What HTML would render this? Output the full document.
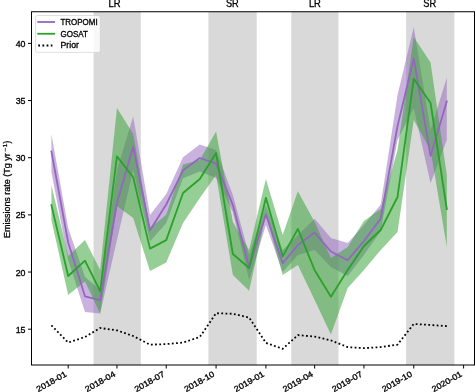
<!DOCTYPE html>
<html><head><meta charset="utf-8"><style>
html,body{margin:0;padding:0;background:#fff;}
body{width:475px;height:392px;overflow:hidden;}
svg{display:block;will-change:transform;}
.t{font-family:"Liberation Sans",sans-serif;font-size:8.2px;fill:#000;stroke:#000;stroke-width:0.3px;}
</style></head><body>
<svg width="475" height="392" viewBox="0 0 475 392">
<defs><clipPath id="ax"><rect x="31.5" y="11.75" width="443.0" height="353.25"/></clipPath></defs>
<rect x="0" y="0" width="475" height="392" fill="#fff"/>
<rect x="93.58" y="11.75" width="47.20" height="353.25" fill="#d9d9d9"/>
<rect x="208.40" y="11.75" width="48.29" height="353.25" fill="#d9d9d9"/>
<rect x="291.28" y="11.75" width="47.20" height="353.25" fill="#d9d9d9"/>
<rect x="406.10" y="11.75" width="48.29" height="353.25" fill="#d9d9d9"/>
<g clip-path="url(#ax)">
<polygon points="51.41,134.00 68.20,228.00 84.99,277.00 100.16,290.00 116.95,170.00 133.20,116.50 149.99,215.00 166.24,194.00 183.03,157.20 199.82,144.60 216.07,150.00 232.86,195.00 249.11,255.00 265.90,205.00 282.69,250.00 297.86,235.00 314.65,218.80 330.90,238.00 347.69,243.00 363.94,225.00 380.73,204.50 397.52,95.00 413.77,27.10 430.56,130.00 446.81,77.40 446.81,140.00 430.56,183.20 413.77,108.00 397.52,140.00 380.73,231.00 363.94,255.00 347.69,276.00 330.90,267.00 314.65,250.00 297.86,255.00 282.69,272.00 265.90,225.00 249.11,280.00 232.86,212.00 216.07,178.00 199.82,171.40 183.03,178.30 166.24,223.00 149.99,241.50 133.20,170.00 116.95,240.00 100.16,313.40 84.99,311.90 68.20,260.00 51.41,172.00" fill="#9467bd" fill-opacity="0.5"/>
<polygon points="51.41,185.30 68.20,256.00 84.99,239.90 100.16,270.00 116.95,108.00 133.20,134.00 149.99,228.00 166.24,214.70 183.03,164.50 199.82,160.00 216.07,131.50 232.86,222.00 249.11,250.00 265.90,179.00 282.69,235.00 297.86,191.20 314.65,222.00 330.90,258.00 347.69,247.00 363.94,221.00 380.73,209.00 397.52,150.00 413.77,37.10 430.56,62.50 446.81,175.00 446.81,247.10 430.56,150.00 413.77,120.00 397.52,232.00 380.73,250.00 363.94,270.00 347.69,288.00 330.90,334.50 314.65,300.00 297.86,265.00 282.69,275.00 265.90,215.00 249.11,290.80 232.86,275.00 216.07,175.00 199.82,198.00 183.03,223.00 166.24,262.60 149.99,271.00 133.20,218.00 116.95,206.00 100.16,313.40 84.99,281.60 68.20,295.00 51.41,220.00" fill="#2ca02c" fill-opacity="0.5"/>
<polyline points="51.41,151.50 68.20,242.50 84.99,296.30 100.16,300.10 116.95,203.00 133.20,146.60 149.99,230.30 166.24,204.50 183.03,170.30 199.82,158.00 216.07,163.70 232.86,205.00 249.11,267.00 265.90,214.50 282.69,263.30 297.86,245.00 314.65,232.50 330.90,251.50 347.69,260.20 363.94,241.00 380.73,218.50 397.52,126.00 413.77,58.60 430.56,155.90 446.81,101.25" fill="none" stroke="#9467bd" stroke-width="1.8" stroke-linejoin="round" stroke-linecap="square"/>
<polyline points="51.41,205.20 68.20,276.00 84.99,260.70 100.16,291.20 116.95,156.40 133.20,177.30 149.99,248.60 166.24,240.10 183.03,193.00 199.82,179.00 216.07,153.00 232.86,254.00 249.11,268.00 265.90,197.80 282.69,256.40 297.86,228.90 314.65,270.20 330.90,296.80 347.69,270.00 363.94,246.00 380.73,230.00 397.52,197.00 413.77,78.70 430.56,103.00 446.81,209.10" fill="none" stroke="#2ca02c" stroke-width="1.8" stroke-linejoin="round" stroke-linecap="square"/>
<polyline points="51.41,325.30 68.20,342.60 84.99,337.00 100.16,328.00 116.95,330.40 133.20,336.00 149.99,344.70 166.24,344.10 183.03,342.60 199.82,337.00 216.07,313.20 232.86,313.80 249.11,317.60 265.90,342.90 282.69,348.80 297.86,335.10 314.65,336.60 330.90,340.40 347.69,347.10 363.94,348.20 380.73,347.10 397.52,344.60 413.77,323.90 430.56,325.00 446.81,326.10" fill="none" stroke="#000" stroke-width="1.8" stroke-dasharray="1.8 2.4"/>
</g>
<rect x="31.5" y="11.75" width="443.0" height="353.25" fill="none" stroke="#000" stroke-width="1.0"/>
<line x1="28.0" y1="329.20" x2="31.5" y2="329.20" stroke="#000" stroke-width="1.0"/>
<text x="25.50" y="332.80" text-anchor="end" class="t" textLength="9.8" lengthAdjust="spacingAndGlyphs">15</text>
<line x1="28.0" y1="272.04" x2="31.5" y2="272.04" stroke="#000" stroke-width="1.0"/>
<text x="25.50" y="275.64" text-anchor="end" class="t" textLength="9.8" lengthAdjust="spacingAndGlyphs">20</text>
<line x1="28.0" y1="214.88" x2="31.5" y2="214.88" stroke="#000" stroke-width="1.0"/>
<text x="25.50" y="218.48" text-anchor="end" class="t" textLength="9.8" lengthAdjust="spacingAndGlyphs">25</text>
<line x1="28.0" y1="157.72" x2="31.5" y2="157.72" stroke="#000" stroke-width="1.0"/>
<text x="25.50" y="161.32" text-anchor="end" class="t" textLength="9.8" lengthAdjust="spacingAndGlyphs">30</text>
<line x1="28.0" y1="100.56" x2="31.5" y2="100.56" stroke="#000" stroke-width="1.0"/>
<text x="25.50" y="104.16" text-anchor="end" class="t" textLength="9.8" lengthAdjust="spacingAndGlyphs">35</text>
<line x1="28.0" y1="43.40" x2="31.5" y2="43.40" stroke="#000" stroke-width="1.0"/>
<text x="25.50" y="47.00" text-anchor="end" class="t" textLength="9.8" lengthAdjust="spacingAndGlyphs">40</text>

<line x1="68.20" y1="365.0" x2="68.20" y2="368.5" stroke="#000" stroke-width="1.0"/>
<text x="67.30" y="375.60" text-anchor="end" class="t" textLength="33.4" lengthAdjust="spacingAndGlyphs" transform="rotate(-30 67.30 375.60)">2018-01</text>
<line x1="116.95" y1="365.0" x2="116.95" y2="368.5" stroke="#000" stroke-width="1.0"/>
<text x="116.05" y="375.60" text-anchor="end" class="t" textLength="33.4" lengthAdjust="spacingAndGlyphs" transform="rotate(-30 116.05 375.60)">2018-04</text>
<line x1="166.24" y1="365.0" x2="166.24" y2="368.5" stroke="#000" stroke-width="1.0"/>
<text x="165.34" y="375.60" text-anchor="end" class="t" textLength="33.4" lengthAdjust="spacingAndGlyphs" transform="rotate(-30 165.34 375.60)">2018-07</text>
<line x1="216.07" y1="365.0" x2="216.07" y2="368.5" stroke="#000" stroke-width="1.0"/>
<text x="215.17" y="375.60" text-anchor="end" class="t" textLength="33.4" lengthAdjust="spacingAndGlyphs" transform="rotate(-30 215.17 375.60)">2018-10</text>
<line x1="265.90" y1="365.0" x2="265.90" y2="368.5" stroke="#000" stroke-width="1.0"/>
<text x="265.00" y="375.60" text-anchor="end" class="t" textLength="33.4" lengthAdjust="spacingAndGlyphs" transform="rotate(-30 265.00 375.60)">2019-01</text>
<line x1="314.65" y1="365.0" x2="314.65" y2="368.5" stroke="#000" stroke-width="1.0"/>
<text x="313.75" y="375.60" text-anchor="end" class="t" textLength="33.4" lengthAdjust="spacingAndGlyphs" transform="rotate(-30 313.75 375.60)">2019-04</text>
<line x1="363.94" y1="365.0" x2="363.94" y2="368.5" stroke="#000" stroke-width="1.0"/>
<text x="363.04" y="375.60" text-anchor="end" class="t" textLength="33.4" lengthAdjust="spacingAndGlyphs" transform="rotate(-30 363.04 375.60)">2019-07</text>
<line x1="413.77" y1="365.0" x2="413.77" y2="368.5" stroke="#000" stroke-width="1.0"/>
<text x="412.87" y="375.60" text-anchor="end" class="t" textLength="33.4" lengthAdjust="spacingAndGlyphs" transform="rotate(-30 412.87 375.60)">2019-10</text>
<line x1="463.60" y1="365.0" x2="463.60" y2="368.5" stroke="#000" stroke-width="1.0"/>
<text x="462.70" y="375.60" text-anchor="end" class="t" textLength="33.4" lengthAdjust="spacingAndGlyphs" transform="rotate(-30 462.70 375.60)">2020-01</text>

<text x="114.6" y="6.74" text-anchor="middle" class="t" style="font-size:10.2px" textLength="12.0" lengthAdjust="spacingAndGlyphs">LR</text>
<text x="232.3" y="6.74" text-anchor="middle" class="t" style="font-size:10.2px" textLength="12.8" lengthAdjust="spacingAndGlyphs">SR</text>
<text x="314.9" y="6.74" text-anchor="middle" class="t" style="font-size:10.2px" textLength="12.0" lengthAdjust="spacingAndGlyphs">LR</text>
<text x="429.7" y="6.74" text-anchor="middle" class="t" style="font-size:10.2px" textLength="12.8" lengthAdjust="spacingAndGlyphs">SR</text>
<g>
<rect x="35.6" y="15.5" width="64.7" height="36.9" rx="2" ry="2" fill="#fff" fill-opacity="0.8" stroke="#ccc" stroke-opacity="0.8" stroke-width="0.8"/>
<line x1="37.3" y1="22.0" x2="55.1" y2="22.0" stroke="#9467bd" stroke-width="1.8"/>
<line x1="37.3" y1="33.76" x2="55.1" y2="33.76" stroke="#2ca02c" stroke-width="1.8"/>
<line x1="38.2" y1="45.5" x2="52.4" y2="45.5" stroke="#000" stroke-width="1.8" stroke-dasharray="1.8 2.4"/>
<text x="60.5" y="24.85" class="t" textLength="37.1" lengthAdjust="spacingAndGlyphs">TROPOMI</text>
<text x="60.5" y="36.5" class="t" textLength="27.5" lengthAdjust="spacingAndGlyphs">GOSAT</text>
<text x="60.5" y="48.3" class="t" textLength="18.4" lengthAdjust="spacingAndGlyphs">Prior</text>
</g>
<g transform="translate(10.2 238) rotate(-90)">
<text x="0" y="0" class="t" textLength="84.7" lengthAdjust="spacingAndGlyphs">Emissions rate (Tg yr</text>
<text x="86.2" y="-3.2" class="t" style="font-size:5.6px;stroke-width:0.2px" textLength="8.2" lengthAdjust="spacingAndGlyphs">−1</text>
<text x="94.6" y="0" class="t">)</text>
</g>
</svg>
</body></html>
